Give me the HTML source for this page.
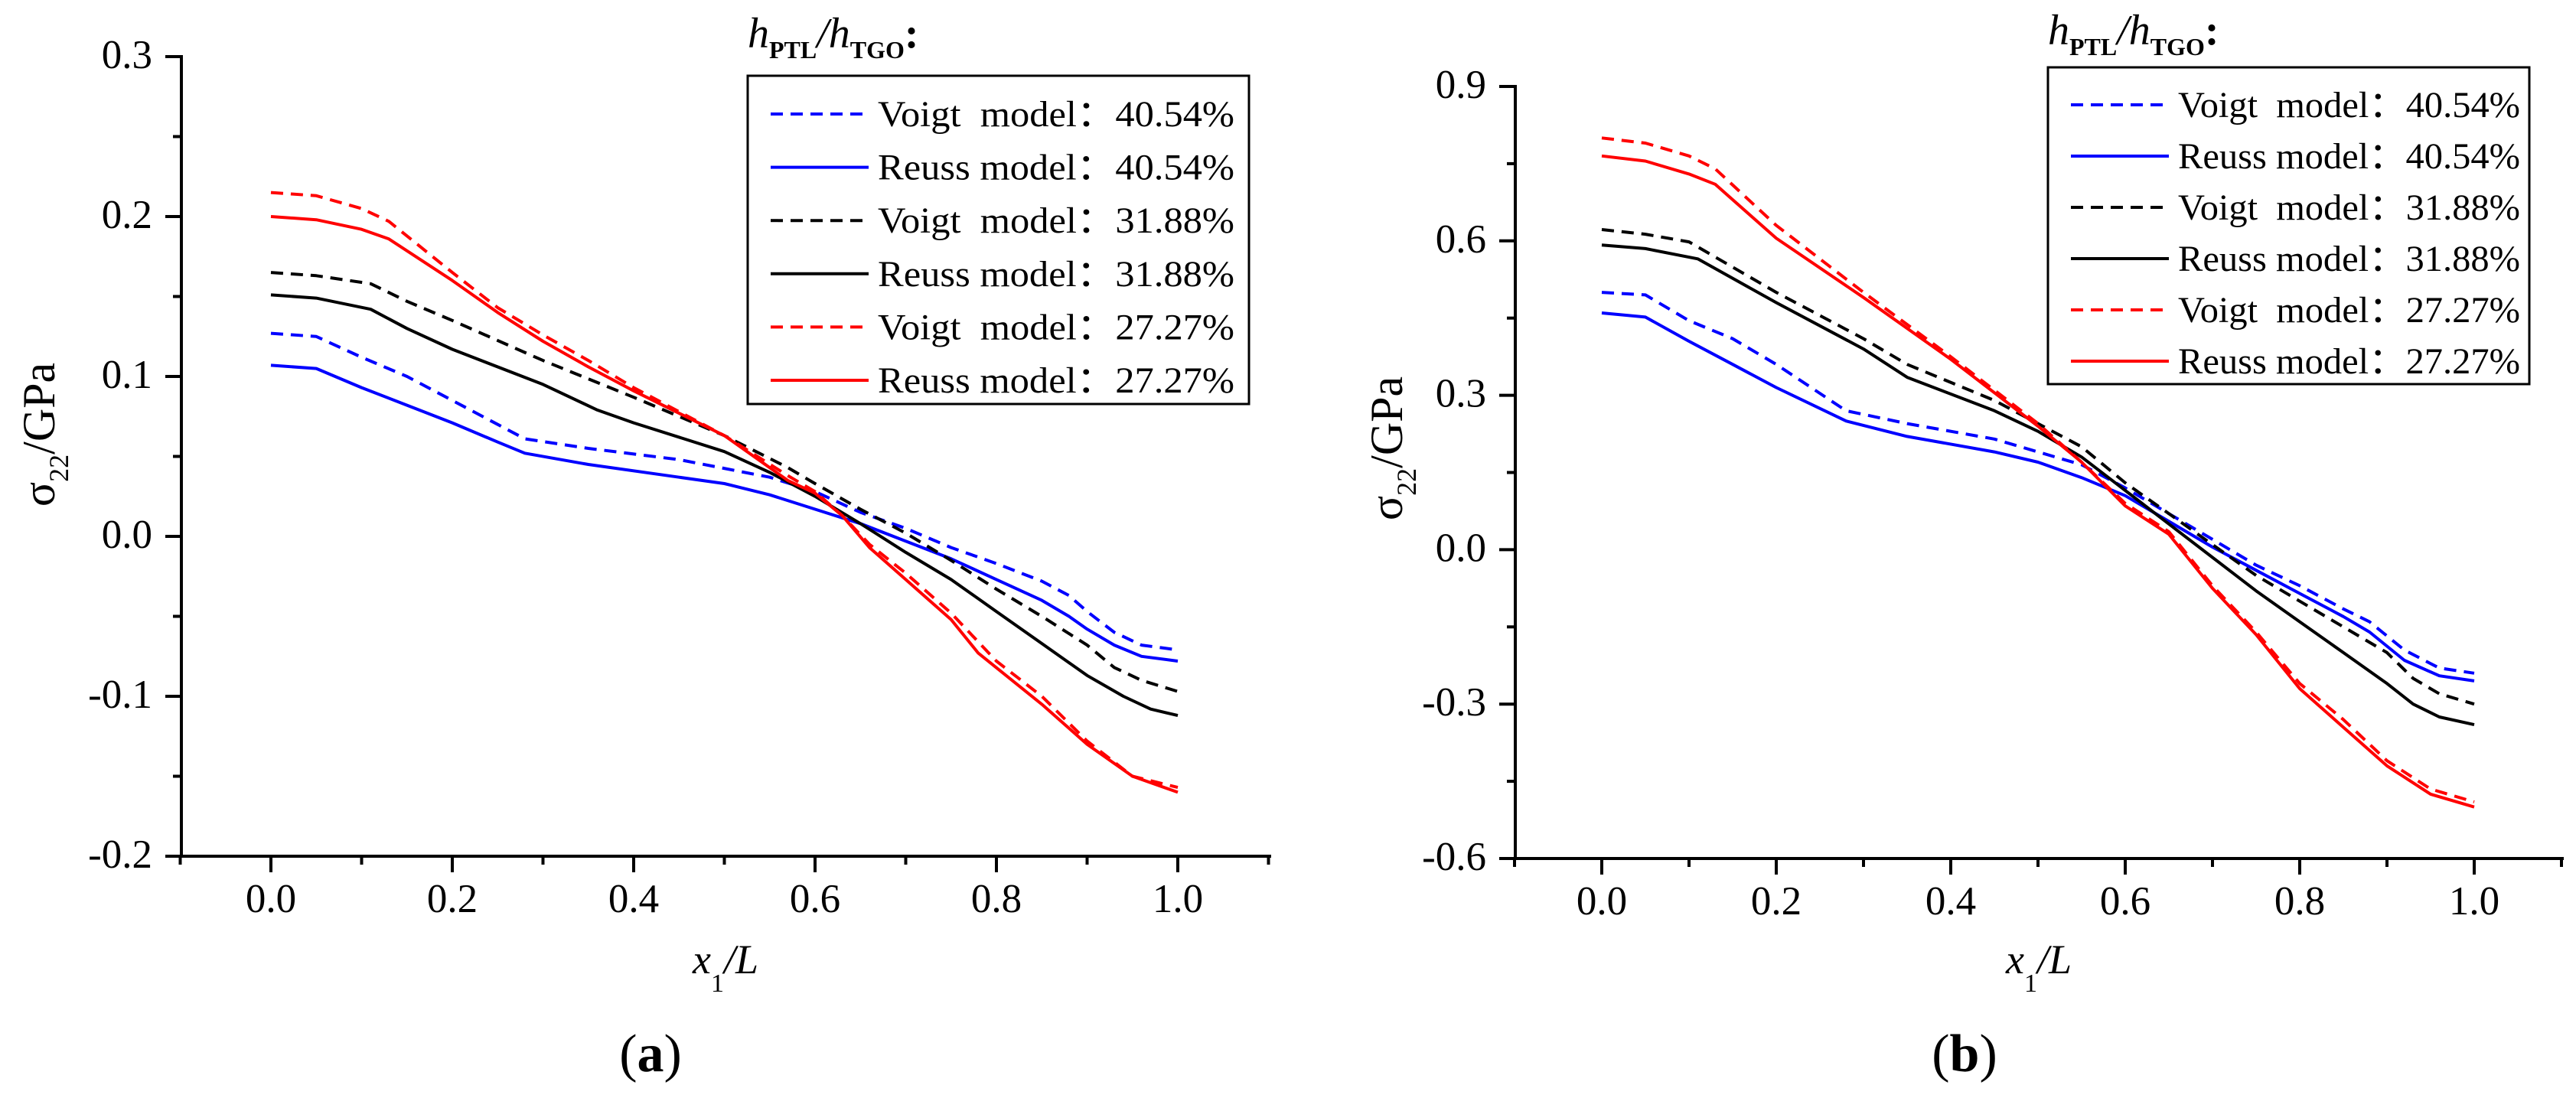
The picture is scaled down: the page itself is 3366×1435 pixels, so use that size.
<!DOCTYPE html>
<html><head><meta charset="utf-8"><style>
html,body{margin:0;padding:0;background:#fff;}
svg{display:block;font-family:"Liberation Serif",serif;}
</style></head><body>
<svg id="fig" width="3366" height="1435" viewBox="0 0 3366 1435" xmlns="http://www.w3.org/2000/svg"></svg>
<script>
// ---------- Data (panel a) ----------
const aBlueDashX=[0,.05,.1,.15,.2,.25,.28,.35,.45,.55,.6,.65,.7,.75,.8,.85,.88,.9,.93,.96,1];
const aBlueDashY=[.127,.125,.112,.1,.085,.07,.061,.055,.048,.037,.028,.015,.005,-.007,-.017,-.028,-.037,-.047,-.06,-.068,-.071];
const aBlueSolX=[0,.05,.1,.15,.2,.25,.28,.35,.45,.5,.55,.6,.65,.7,.75,.8,.85,.88,.9,.93,.96,1];
const aBlueSolY=[.107,.105,.093,.082,.071,.059,.052,.045,.037,.033,.026,.017,.008,-.003,-.014,-.027,-.04,-.05,-.058,-.068,-.075,-.078];
const aBlackDashX=[0,.05,.11,.15,.2,.3,.4,.5,.57,.6,.65,.7,.75,.8,.85,.9,.93,.96,1];
const aBlackDashY=[.165,.163,.158,.147,.135,.11,.087,.063,.043,.033,.017,.002,-.015,-.033,-.05,-.068,-.082,-.09,-.097];
const aBlackSolX=[0,.05,.11,.15,.2,.3,.36,.4,.5,.55,.6,.65,.7,.75,.8,.85,.9,.94,.97,1];
const aBlackSolY=[.151,.149,.142,.13,.117,.095,.079,.071,.053,.04,.025,.008,-.01,-.027,-.047,-.067,-.087,-.1,-.108,-.112];
const aRedDashX=[0,.05,.1,.13,.2,.25,.3,.35,.4,.5,.57,.6,.63,.66,.7,.75,.8,.85,.9,.95,1];
const aRedDashY=[.215,.213,.205,.197,.165,.143,.126,.11,.093,.063,.038,.028,.013,-.005,-.023,-.048,-.078,-.1,-.128,-.15,-.157];
const aRedSolX=[0,.05,.1,.13,.2,.25,.3,.35,.4,.5,.57,.6,.63,.66,.7,.75,.78,.85,.9,.95,1];
const aRedSolY=[.2,.198,.192,.186,.16,.14,.122,.106,.091,.063,.035,.027,.013,-.007,-.027,-.052,-.073,-.105,-.13,-.15,-.16];
// ---------- Data (panel b) ----------
const bBlueDashX=[0,.05,.1,.15,.2,.28,.35,.45,.55,.6,.65,.7,.75,.8,.85,.88,.92,.96,1];
const bBlueDashY=[.5,.495,.445,.41,.36,.27,.245,.215,.165,.12,.07,.02,-.03,-.07,-.115,-.14,-.195,-.23,-.24];
const bBlueSolX=[0,.05,.1,.15,.2,.28,.35,.45,.5,.55,.6,.65,.7,.75,.8,.85,.88,.92,.96,1];
const bBlueSolY=[.46,.452,.405,.36,.315,.25,.22,.19,.17,.14,.105,.055,.005,-.04,-.085,-.13,-.16,-.215,-.245,-.255];
const bBlackDashX=[0,.05,.1,.2,.3,.35,.45,.55,.6,.65,.7,.75,.8,.85,.9,.93,.96,1];
const bBlackDashY=[.622,.613,.598,.5,.41,.36,.29,.2,.13,.07,.01,-.05,-.1,-.15,-.2,-.25,-.28,-.3];
const bBlackSolX=[0,.05,.11,.2,.3,.35,.45,.5,.55,.6,.65,.7,.75,.8,.85,.9,.93,.96,1];
const bBlackSolY=[.592,.585,.565,.48,.39,.335,.27,.23,.18,.115,.05,-.015,-.08,-.14,-.2,-.26,-.3,-.325,-.34];
const bRedDashX=[0,.05,.1,.13,.2,.3,.4,.5,.55,.6,.65,.7,.75,.8,.85,.9,.95,1];
const bRedDashY=[.8,.79,.765,.74,.63,.5,.375,.245,.17,.09,.035,-.07,-.16,-.26,-.33,-.41,-.465,-.49];
const bRedSolX=[0,.05,.1,.13,.2,.3,.4,.5,.55,.6,.65,.7,.75,.8,.85,.9,.95,1];
const bRedSolY=[.765,.755,.73,.71,.605,.49,.37,.24,.17,.085,.03,-.075,-.165,-.27,-.345,-.42,-.475,-.5];
// ticks / labels
const xTickLabels=["0.0","0.2","0.4","0.6","0.8","1.0"];
const aYTickLabels=["0.3","0.2","0.1","0.0","-0.1","-0.2"];
const bYTickLabels=["0.9","0.6","0.3","0.0","-0.3","-0.6"];
const legendLabels=["Voigt  model：40.54%","Reuss model：40.54%","Voigt  model：31.88%","Reuss model：31.88%","Voigt  model：27.27%","Reuss model：27.27%"];

const NS="http://www.w3.org/2000/svg";
const svg=document.getElementById('fig');
function mk(tag,attrs,parent,text){const e=document.createElementNS(NS,tag);for(const k in attrs)e.setAttribute(k,attrs[k]);if(text!==undefined)e.textContent=text;(parent||svg).appendChild(e);return e;}

function panel(P){
  const g=mk('g',{});
  
  
  const xs=v=>P.x0+(P.x1-P.x0)*v;
  const ys=v=>P.yTop+(P.yBot-P.yTop)*(P.yMax-v)/(P.yMax-P.yMin);
  const ax=mk('line',{x1:P.axX,y1:P.yTop-2,x2:P.axX,y2:P.yBot+2,stroke:'#000','stroke-width':4},g);
  
  const axb=mk('line',{x1:P.axX-2,y1:P.yBot,x2:P.axR,y2:P.yBot,stroke:'#000','stroke-width':4},g);
  
  const nY=P.yLabels.length;
  for(let i=0;i<nY;i++){
    const v=P.yMax-i*P.yStep;
    mk('line',{x1:P.axX-21,y1:ys(v),x2:P.axX,y2:ys(v),stroke:'#000','stroke-width':4},g);
    if(i<nY-1){const m=v-P.yStep/2;mk('line',{x1:P.axX-11,y1:ys(m),x2:P.axX,y2:ys(m),stroke:'#000','stroke-width':4},g);}
    const t=mk('text',{x:P.axX-38,y:ys(v)+15,'font-size':53,'text-anchor':'end',fill:'#000'},g,P.yLabels[i]);
    
  }
  for(let k=-1;k<=11;k++){
    const v=k/10, xx=xs(v);
    const major=(k%2===0);
    mk('line',{x1:xx,y1:P.yBot,x2:xx,y2:P.yBot+(major?21:11),stroke:'#000','stroke-width':4},g);
  }
  xTickLabels.forEach((l,i)=>{
    const t=mk('text',{x:xs(i*0.2),y:P.yBot+73,'font-size':53,'text-anchor':'middle',fill:'#000'},g,l);
    
  });
  const xt=mk('text',{x:P.xTitleX,y:1272,'font-size':54,'text-anchor':'middle','font-style':'italic',fill:'#000'},g);
  
  mk('tspan',{},xt,'x');mk('tspan',{'font-size':34,'font-style':'normal',dy:24},xt,'1');mk('tspan',{dy:-24},xt,'/L');
  const yt=mk('text',{transform:`translate(${P.yTitleX},${P.yTitleY}) rotate(-90)`,'font-size':60,'text-anchor':'middle',fill:'#000'},g);
  
  mk('tspan',{},yt,'σ');mk('tspan',{'font-size':36,dy:18},yt,'22');mk('tspan',{dy:-18},yt,'/GPa');
  const pl=mk('text',{x:P.capX,y:1400,'font-size':70,'text-anchor':'middle',fill:'#000'},g);
  
  mk('tspan',{},pl,'(');mk('tspan',{'font-weight':'bold'},pl,P.cap);mk('tspan',{},pl,')');
  const series=[
    [P.d[0],P.d[1],'#0000ff',true,'blue-voigt-line'],
    [P.d[2],P.d[3],'#0000ff',false,'blue-reuss-line'],
    [P.d[4],P.d[5],'#000000',true,'black-voigt-line'],
    [P.d[6],P.d[7],'#000000',false,'black-reuss-line'],
    [P.d[8],P.d[9],'#ff0000',true,'red-voigt-line'],
    [P.d[10],P.d[11],'#ff0000',false,'red-reuss-line']];
  series.forEach(s=>{
    const pts=s[0].map((x,i)=>xs(x).toFixed(1)+','+ys(s[1][i]).toFixed(1)).join(' ');
    const pl2=mk('polyline',{points:pts,fill:'none',stroke:s[2],'stroke-width':4,'stroke-linejoin':'round','stroke-dasharray':s[3]?'16 10':'none'},g);
    
  });
  const lg=mk('g',{},g);
  
  const hd=mk('text',{x:P.lgX,y:P.lgHeadY,'font-size':56,'font-style':'italic',fill:'#000'},lg);
  
  mk('tspan',{},hd,'h');mk('tspan',{'font-size':32,'font-style':'normal','font-weight':'bold',dy:14},hd,'PTL');
  mk('tspan',{dy:-14},hd,'/h');mk('tspan',{'font-size':32,'font-style':'normal','font-weight':'bold',dy:14},hd,'TGO');
  mk('tspan',{dy:-14,'font-style':'normal','font-weight':'bold'},hd,':');
  mk('rect',{x:P.lgX,y:P.lgTop,width:P.lgW,height:P.lgH,fill:'#fff',stroke:'#000','stroke-width':3},lg);
  legendLabels.forEach((l,i)=>{
    const cy=P.lgRow0+i*P.lgDy;
    const e=mk('g',{},lg);
    
    mk('line',{x1:P.lgX+30,y1:cy,x2:P.lgX+158,y2:cy,stroke:series[i][2],'stroke-width':4,'stroke-dasharray':series[i][3]?'16 10':'none'},e);
    const tx=mk('text',{x:P.lgX+170,y:cy+16,'font-size':48,fill:'#000',textLength:P.lgTL,lengthAdjust:'spacingAndGlyphs',style:'white-space:pre'},e,l);
    tx.setAttributeNS('http://www.w3.org/XML/1998/namespace','xml:space','preserve');
  });
}

panel({name:'chart-a',cap:'a',x0:354,x1:1539,axX:237,axR:1661,yTop:74,yBot:1119,yMax:0.3,yMin:-0.2,yStep:0.1,yLabels:aYTickLabels,
  xTitleX:948,yTitleX:71,yTitleY:568,capX:850,
  lgX:977,lgTop:99,lgW:655,lgH:429,lgHeadY:62,lgRow0:149,lgDy:69.6,lgTL:466,
  d:[aBlueDashX,aBlueDashY,aBlueSolX,aBlueSolY,aBlackDashX,aBlackDashY,aBlackSolX,aBlackSolY,aRedDashX,aRedDashY,aRedSolX,aRedSolY]});
panel({name:'chart-b',cap:'b',x0:2093,x1:3233,axX:1980,axR:3350,yTop:113,yBot:1122,yMax:0.9,yMin:-0.6,yStep:0.3,yLabels:bYTickLabels,
  xTitleX:2664,yTitleX:1832,yTitleY:586,capX:2567,
  lgX:2676,lgTop:88,lgW:629,lgH:414,lgHeadY:58,lgRow0:137,lgDy:67,lgTL:447,
  d:[bBlueDashX,bBlueDashY,bBlueSolX,bBlueSolY,bBlackDashX,bBlackDashY,bBlackSolX,bBlackSolY,bRedDashX,bRedDashY,bRedSolX,bRedSolY]});
</script>
</body></html>
